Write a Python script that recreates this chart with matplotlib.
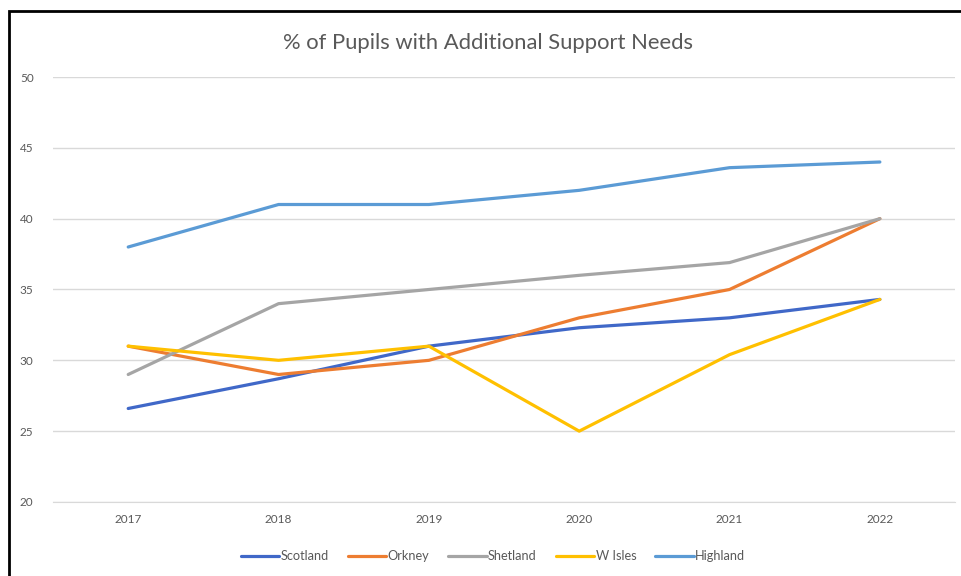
import matplotlib
matplotlib.use('Agg')
import matplotlib.pyplot as plt
from matplotlib.patches import Rectangle

plt.rcParams['font.family'] = ['Lato', 'DejaVu Sans']

years = ['2017', '2018', '2019', '2020', '2021', '2022']
scotland = [26.6, 28.7, 31.0, 32.3, 33.0, 34.3]
orkney = [31.0, 29.0, 30.0, 33.0, 35.0, 40.0]
shetland = [29.0, 34.0, 35.0, 36.0, 36.9, 40.0]
w_isles = [31.0, 30.0, 31.0, 25.0, 30.4, 34.3]
highland = [38.0, 41.0, 41.0, 42.0, 43.6, 44.0]

series = [
    ('Scotland', scotland, '#4068C8'),
    ('Orkney', orkney, '#ED7D31'),
    ('Shetland', shetland, '#A5A5A5'),
    ('W Isles', w_isles, '#FFC000'),
    ('Highland', highland, '#5B9BD5'),
]

fig = plt.figure(figsize=(9.61, 5.76), dpi=100)
ax = fig.add_axes([0.0552, 0.1285, 0.9386, 0.7378])

x = list(range(len(years)))
for name, vals, col in series:
    ax.plot(x, vals, color=col, lw=2.3, label=name, solid_capstyle='round')

ax.set_xlim(-0.5, len(years) - 0.5)
ax.set_ylim(20, 50)
ax.set_yticks(range(20, 51, 5))
ax.set_xticks(x)
ax.set_xticklabels(years)
ax.grid(axis='y', color='#D9D9D9', lw=1)
ax.set_axisbelow(True)
for s in ax.spines.values():
    s.set_visible(False)
ax.spines['bottom'].set_visible(True)
ax.spines['bottom'].set_color('#D9D9D9')
ax.tick_params(length=0, colors='#595959', labelsize=8.5)
ax.tick_params(axis='y', pad=14)
ax.tick_params(axis='x', pad=9)

fig.text(0.508, 0.925, '% of Pupils with Additional Support Needs',
         ha='center', va='center', fontsize=15.8, color='#595959')

leg = fig.legend(loc='center', bbox_to_anchor=(0.513, 0.034), ncol=5,
                 frameon=False, fontsize=9.2, handlelength=3.0,
                 handletextpad=0.1, columnspacing=1.5)
for t in leg.get_texts():
    t.set_color('#595959')

fig.patches.append(Rectangle((0.0094, -0.1), 1.2, 1.0809, transform=fig.transFigure,
                             fill=False, edgecolor='black', lw=2))

fig.savefig('out.png', dpi=100)
